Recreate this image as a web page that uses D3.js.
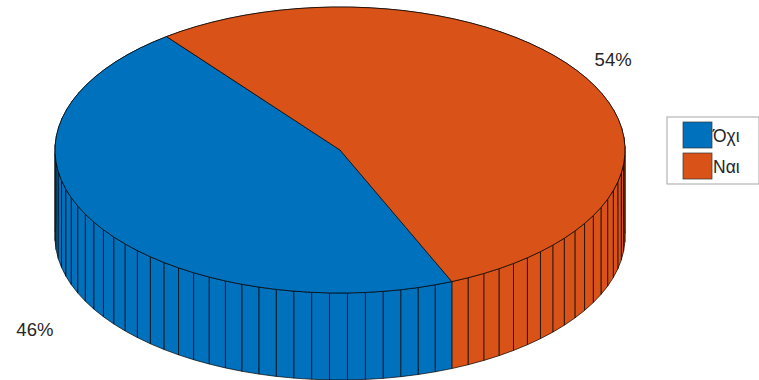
<!DOCTYPE html>
<meta charset="utf-8">
<style>
    body { margin: 0; background: #fff; }
    text { font-family: "Liberation Sans", Arial, sans-serif; fill: #262626; }
</style>
<body>
<svg width="759" height="380"></svg>
<script src="https://cdn.jsdelivr.net/npm/d3@7"></script>
<script>
    // data
    var labels = ["Όχι", "Ναι"];
    var values = [46, 54];
    var pctLabels = ["46%", "54%"];
    var colors = ["#0072BD", "#D95319"];

    var svg = d3.select("svg"),
        cx = 340, cy = 150,
        rx = 285, ry = 143,
        depth = 87;

    var x = d3.scaleLinear().domain([-1, 1]).range([cx - rx, cx + rx]),
        y = d3.scaleLinear().domain([-1, 1]).range([cy + ry, cy - ry]);

    var total = d3.sum(values);
    // facets per slice, like matlab pie3
    function nFacets(v) { return Math.max(1, Math.ceil(v / total * 100)); }

    // start at top, rotated by view azimuth, going counterclockwise
    var az = -37.5 * Math.PI / 180;
    var pie = d3.pie().sort(null).startAngle(az).endAngle(az - 2 * Math.PI);
    var arcs = pie(values);

    // d3 angle (clockwise from 12 o'clock) -> math angle
    function theta(a) { return Math.PI / 2 - a; }

    var facets = [], tops = [];
    arcs.forEach(function (d, i) {
        var n = nFacets(d.value);
        var t0 = theta(d.startAngle), t1 = theta(d.endAngle);
        var pts = [[x(0), y(0)]];
        for (var k = 0; k <= n; k++) {
            var t = t0 + (t1 - t0) * k / n;
            pts.push([x(Math.cos(t)), y(Math.sin(t))]);
            if (k < n) {
                var ta = t, tb = t0 + (t1 - t0) * (k + 1) / n;
                facets.push({ i: i, a: ta, b: tb, mid: (ta + tb) / 2 });
            }
        }
        tops.push({ i: i, pts: pts, mid: (t0 + t1) / 2 });
    });

    // painter's order: back facets first
    facets.sort(function (p, q) { return Math.sin(q.mid) - Math.sin(p.mid); });

    svg.append("g").selectAll("path")
        .data(facets)
        .enter().append("path")
        .attr("d", function (f) {
            var xa = x(Math.cos(f.a)), ya = y(Math.sin(f.a)),
                xb = x(Math.cos(f.b)), yb = y(Math.sin(f.b));
            return "M" + xa + "," + ya + "L" + xb + "," + yb +
                "L" + xb + "," + (yb + depth) + "L" + xa + "," + (ya + depth) + "Z";
        })
        .style("fill", function (f) { return colors[f.i]; })
        .style("stroke", "#000")
        .style("stroke-width", 0.7)
        .style("stroke-linejoin", "round");

    svg.append("g").selectAll("path")
        .data(tops)
        .enter().append("path")
        .attr("d", function (d) { return "M" + d.pts.join("L") + "Z"; })
        .style("fill", function (d) { return colors[d.i]; })
        .style("stroke", "#000")
        .style("stroke-width", 0.7)
        .style("stroke-linejoin", "round");

    // percent labels
    svg.append("g").selectAll("text")
        .data(tops)
        .enter().append("text")
        .attr("x", function (d) { return cx + 1.175 * rx * Math.cos(d.mid) - 16; })
        .attr("y", function (d) {
            var yy = cy - 1.25 * ry * Math.sin(d.mid);
            if (Math.sin(d.mid) < 0) yy += depth + 2;
            return yy;
        })
        .attr("dy", "0.35em")
        .attr("text-anchor", "middle")
        .style("font-size", "18.5px")
        .text(function (d) { return pctLabels[d.i]; });

    // legend
    var legend = svg.append("g").attr("transform", "translate(667,117)");
    legend.append("rect")
        .attr("width", 92).attr("height", 67)
        .style("fill", "#fff")
        .style("stroke", "#a6a6a6")
        .style("stroke-width", 1);
    var item = legend.selectAll(".item")
        .data(labels)
        .enter().append("g")
        .attr("class", "item")
        .attr("transform", function (d, i) { return "translate(16," + (5 + i * 31) + ")"; });
    item.append("rect")
        .attr("width", 29).attr("height", 26)
        .style("fill", function (d, i) { return colors[i]; })
        .style("stroke", "#333")
        .style("stroke-width", 0.7);
    item.append("text")
        .attr("x", 30).attr("y", 14)
        .attr("dy", "0.35em")
        .style("font-size", "17.5px")
        .text(function (d) { return d; });
</script>
</body>
